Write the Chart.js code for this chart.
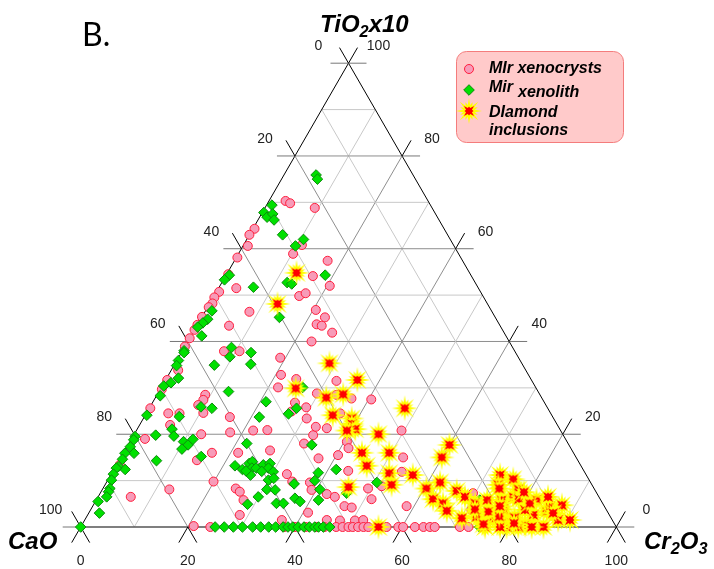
<!DOCTYPE html>
<html>
<head>
<meta charset="utf-8">
<script src="https://cdn.jsdelivr.net/npm/chart.js@4"></script>
<style>
  html, body { margin: 0; padding: 0; background: #fff; }
  #wrap { width: 714px; height: 569px; }
</style>
</head>
<body>
<div id="wrap"><canvas id="ternary" width="714" height="569"></canvas></div>
<script>
// every point is [Cr2O3, TiO2x10] in percent, CaO is what is left to 100
const xenocrysts = [
  [3.1,70.3],[4.2,69.8],[9.3,68.8],[0.3,64.3],[0,63],[0.9,60.6],[10.9,60.8],[10.2,58.9],[0.2,58.1],
  [17.4,57.4],[16.3,54.1],[20.5,52],[3.3,51.5],[0.3,54.5],[15.9,49.8],[16.8,50.4],[8.3,46.4],[20.5,46.8],
  [23,45.2],[22.2,43.7],[23.3,43.4],[26,41.9],[23.1,40],[6,43.4],[7.8,37.9],[10.7,37.9],[19,36.5],
  [21,32.8],[32,31.5],[24.3,31.9],[21.8,30.1],[9,28.5],[29.7,28.8],[33.5,28.5],[36.7,27.7],[40.5,27.5],
  [26.6,26.8],[29.2,25.8],[36.2,24.5],[16,23.7],[30.5,23.4],[26.9,24.9],
  [0.5,50.7],[0.2,49.5],[0.5,48.2],[0.2,47.4],[0,45.3],[0,43.6],[0,42.5],[0,40.7],[0,38.9],[1.3,33.8],
  [0.3,31.7],[0.3,29.7],[9.2,27.4],[0.2,25.6],[10.6,24.6],[6.2,24.5],[4.1,24.5],[5.7,22],[8.8,26.3],
  [12.5,20],[17.7,20.4],[2.5,19],[14.5,14.4],[16.5,16],[21.4,16],[0.6,13.4],[6.1,6.5],[12.5,8.1],
  [19.9,9.8],[24.8,8.3],[25.9,7.6],[27.5,5.8],[28.4,2.6],
  [21.8,20.8],[24.4,20.9],[33.5,19.8],[33.1,21.6],[35.3,21.3],[32.7,18],[40.5,18.4],[41.5,17],[27.1,16.5],
  [40.3,15.5],[49.5,20.8],[52.7,15],[54,11.9],[37,14.8],[43.9,12.1],[32.8,11.4],[34.6,9.8],[38,9.6],
  [39.1,8],[42.4,7.1],[44.2,6.5],[40.9,3.1],[47,4.5],[48.5,4.2],[51.3,6],[49.5,8.3],[51.8,8.8],[58.6,4.5],
  [36.8,1.5],[45.2,1.5],[47.7,1.4],[50.5,1.4],[52,1.5],[69.6,7.3],[71.1,3.7],
  [21,0.2],[24.2,0],[38,0],[40,0],[42,0],[44,0],[45.5,0],[47.7,0],[48.9,0],[50,0],[50.8,0],[51.8,0],
  [52.8,0],[53.7,0],[57.1,0],[59.3,0],[60.2,0],[62.4,0],[64,0],[65.2,0],[66.1,0],[70.8,0],[72.4,0]
];
const xenolith = [
  [6,75.9],[6.7,75],[1,69.4],[0.3,67.8],[1.4,66.8],[2.1,67.5],[3,66.2],[6.2,63],[10.6,62],[9.8,60.6],
  [18.5,54.3],[12.2,52.7],[13.2,52.4],[0.6,54.3],[0.2,53.3],[6.4,51.7],[14.5,45.2],[1.2,46.6],[1.3,44.8],
  [0.8,44],[0.3,43.1],[2,41.2],[0.3,38],[0.5,37.6],[8.8,38.7],[9.5,36.7],[13,37.6],[14.2,35.1],[7.5,34.9],
  [0.3,35.9],[0.5,34.8],[2.2,32.1],[1.3,31.1],[0.3,30.4],[0.7,28.3],[13,29.2],[0.3,24.1],[9.5,25.9],
  [11.7,25.6],[6.5,23.8],[6.5,21.1],[7.6,19.6],[0.4,19.5],[0.5,18.8],[4.1,19.8],[0.6,17.3],[2,15.9],
  [0.3,15.9],[0.5,14.6],[0.5,13],[2.1,12.4],[0.3,12.7],[0.4,11.4],[0.7,10.1],[1.3,8.3],[1.4,7.6],
  [1.6,6.5],[0.5,5.5],[2,3],[7,14.3],[10,18.4],[11.2,17.7],[11.5,18.9],[10.5,16.8],[14.9,15.2],[0,0],
  [21.1,27],[26.6,24.4],[21.5,23.7],[27.5,25.6],[34.3,17.7],[22,18],[26.4,30.1],
  [22.2,13.2],[24,12.4],[24.6,13.7],[25,14.1],[25.6,12.7],[26.4,12.7],[26.1,11.2],[24.8,12.1],[27.4,13.4],
  [28.5,13.7],[28.7,12.7],[30,11.9],[27.8,12],[30,10.1],[30.8,10.5],[30.7,8.1],[32.3,8],[29.9,6.5],
  [28.7,4.9],[34,5.1],[35.3,5.1],[35.2,9.3],[36.9,6.2],[38.2,5.5],[38.7,10],[40.6,8.1],[41.5,5.8],
  [38.5,11.7],[41.5,12.4],[46,7.3],[50.5,9.6],[71.6,5.8],[74.5,0],
  [25.1,0],[26.8,0],[28.5,0],[30.2,0],[32.1,0],[33.6,0],[35.1,0],[36.4,0],[37.8,0],[38.7,0],[39.6,0],
  [40.6,0],[41.7,0],[42.7,0],[43.7,0],[44.4,0],[45.3,0],[46.5,0]
];
const diamondInclusions = [
  [12.9,54.8],[12.7,48.1],[28.8,35.3],[35.8,31.7],[25.2,29.9],[31.9,27.9],[34.7,28.6],[47.7,25.6],
  [35,24.1],[38.9,23.4],[39.5,22.2],[40.7,21.1],[39.3,20.8],[45.6,20],[44.5,16],[49.6,16],[46.8,13.2],
  [51.8,11.6],[53.5,9.1],[56.4,11.2],[45.7,8.6],[55.6,0],[60,17.7],[59.9,15],[60.4,8.3],[62.3,9.6],
  [62.8,6],[65.1,5.1],[66.6,3.5],[66.3,7.8],[68.5,6.5],[70.2,1.9],[71.1,5.1],[72.8,2.2],[73,5.8],
  [72.7,11.2],[75.6,10.3],[73.4,9.1],[77.5,6.5],[77.7,8.1],[75.7,5.8],[78.8,6],[82.2,5.8],[85.3,3.4],
  [87.5,4.7],[88.4,1.5],[90.6,1.5],[83.2,2.6],[86.4,0],[82.8,0.4],[81.7,0],[78.8,1.5],[76,1.9],[75.5,0],
  [71.7,3.8],[74.5,3.3],[77,3.8],[81.1,3.7],[81.3,5.1],[85.4,4.4],[86.7,3],[84.2,0],[79.5,0],[78.3,0],
  [74.9,0.6],[80,2],[79,7.5],[84,6.5],[80.5,0.8],[77,2.3],[74,8.3],[76,4.5]
];
const seriesNames = ['MIr xenocrysts', 'Mir xenolith', 'DIamond inclusions'];
const tickValues = [0, 20, 40, 60, 80, 100];
const gridStep = 10;

const SQ3 = Math.sqrt(3) / 2;
const TICK_LEN = 18;
const LABEL_FONT = "14px 'Liberation Sans', Arial, sans-serif";

function toXY(p) {
  return { x: p[0] + p[1] / 2, y: p[1] * SQ3 };
}

function starPath(g, cx, cy, n, radii, start) {
  g.beginPath();
  for (let i = 0; i < n; i++) {
    const a = start + i * 2 * Math.PI / n;
    const r = radii[i % radii.length];
    const px = cx + r * Math.cos(a), py = cy + r * Math.sin(a);
    i ? g.lineTo(px, py) : g.moveTo(px, py);
  }
  g.closePath();
}

// yellow burst with a red four-point core
function makeStar() {
  const c = document.createElement('canvas');
  c.width = c.height = 28;
  const g = c.getContext('2d');
  starPath(g, 14, 14, 32, [13, 6, 9.5, 6], 0);
  g.fillStyle = '#ffff00';
  g.fill();
  starPath(g, 14, 14, 16, [7.2, 3.2, 4.6, 3.2], Math.PI / 4);
  g.fillStyle = '#ff0000';
  g.fill();
  return c;
}
const starImg = makeStar();

const diamondStyle = { pointStyle: 'rectRot', radius: 5.3, rotation: 0, borderWidth: 1 };
const PINK = '#f79bb8', PINK_EDGE = '#ff1e3c';
const GREEN = '#00e000', GREEN_EDGE = '#0c8a0c';

function line(ctx, a, b, color, w) {
  ctx.beginPath();
  ctx.moveTo(a[0], a[1]);
  ctx.lineTo(b[0], b[1]);
  ctx.strokeStyle = color;
  ctx.lineWidth = w || 1;
  ctx.stroke();
}

// text runs with optional subscript pieces
function richText(ctx, parts, x, y, size) {
  let cx = x;
  parts.forEach(([t, sub]) => {
    const s = sub ? size * 0.68 : size;
    ctx.font = `bold italic ${s}px 'Liberation Sans', Arial, sans-serif`;
    ctx.fillText(t, cx, sub ? y + size * 0.22 : y);
    cx += ctx.measureText(t).width;
  });
}

const ternaryGrid = {
  id: 'ternaryGrid',
  beforeDatasetsDraw(chart) {
    const { ctx, scales: { x, y } } = chart;
    const pt = (cr, ti) => [x.getPixelForValue(cr + ti / 2), y.getPixelForValue(ti * SQ3)];
    ctx.save();
    for (let v = gridStep; v < 100; v += gridStep) {
      const col = v % 20 === 0 ? '#8e8e8e' : '#c8c8c8';
      line(ctx, pt(0, v), pt(100 - v, v), col);
      line(ctx, pt(v, 0), pt(v, 100 - v), col);
      line(ctx, pt(100 - v, 0), pt(0, 100 - v), col);
    }
    line(ctx, pt(0, 0), pt(0, 100), '#000');
    line(ctx, pt(100, 0), pt(0, 100), '#000');
    line(ctx, pt(0, 0), pt(100, 0), '#555', 1.5);

    const L = TICK_LEN, dx = 0.5 * L, dy = SQ3 * L;
    ctx.font = LABEL_FONT;
    ctx.fillStyle = '#222';
    ctx.textAlign = 'center';
    ctx.textBaseline = 'middle';
    tickValues.forEach(v => {
      // CaO on the left edge
      const p = pt(0, 100 - v);
      line(ctx, p, [p[0] - L, p[1]], '#777');
      line(ctx, p, [p[0] - dx, p[1] - dy], '#000');
      ctx.fillText(String(v), p[0] - 30, p[1] - 17);
      // Cr2O3 along the base
      const q = pt(v, 0);
      line(ctx, q, [q[0] - dx, q[1] + dy], '#000');
      line(ctx, q, [q[0] + dx, q[1] + dy], '#000');
      ctx.fillText(String(v), q[0], q[1] + 34);
      // TiO2 on the right edge
      const r = pt(100 - v, v);
      line(ctx, r, [r[0] + L, r[1]], '#777');
      line(ctx, r, [r[0] + dx, r[1] - dy], '#000');
      ctx.fillText(String(v), r[0] + 30, r[1] - 17);
    });
    ctx.restore();
  },
  afterDraw(chart) {
    const { ctx } = chart;
    ctx.save();
    ctx.fillStyle = '#000';
    ctx.textAlign = 'left';
    ctx.textBaseline = 'alphabetic';
    richText(ctx, [['TiO'], ['2', true], ['x10']], 320, 32, 24);
    richText(ctx, [['CaO']], 8, 549, 24);
    richText(ctx, [['Cr'], ['2', true], ['O'], ['3', true]], 644, 549, 24);
    ctx.font = "32px Lato, 'Liberation Sans', sans-serif";
    ctx.fillText('B.', 82, 46);

    // legend
    ctx.beginPath();
    ctx.roundRect(456.5, 51.5, 167, 91, 10);
    ctx.fillStyle = '#ffcaca';
    ctx.fill();
    ctx.strokeStyle = '#f47c7c';
    ctx.lineWidth = 1;
    ctx.stroke();

    ctx.lineWidth = 1;
    ctx.fillStyle = PINK; ctx.strokeStyle = PINK_EDGE;
    ctx.beginPath(); ctx.arc(469, 69, 4.5, 0, Math.PI * 2); ctx.fill(); ctx.stroke();
    ctx.fillStyle = GREEN; ctx.strokeStyle = GREEN_EDGE;
    Chart.helpers.drawPoint(ctx, diamondStyle, 469, 90);
    ctx.drawImage(starImg, 455, 97);

    ctx.fillStyle = '#000';
    ctx.font = "bold italic 16px 'Liberation Sans', Arial, sans-serif";
    ctx.fillText(seriesNames[0], 489, 73);
    ctx.fillText('Mir', 489, 92);
    ctx.fillText('xenolith', 518, 96.5);
    ctx.fillText('DIamond', 489, 116.5);
    ctx.fillText('inclusions', 489, 134.5);
    ctx.restore();
  }
};

new Chart(document.getElementById('ternary'), {
  type: 'scatter',
  data: {
    datasets: [
      {
        label: seriesNames[2], data: diamondInclusions.map(toXY), order: 1, clip: false,
        pointStyle: starImg
      },
      {
        label: seriesNames[1], data: xenolith.map(toXY), order: 2, clip: false,
        pointStyle: 'rectRot', pointRadius: 5.3, backgroundColor: GREEN, borderColor: GREEN_EDGE, borderWidth: 1
      },
      {
        label: seriesNames[0], data: xenocrysts.map(toXY), order: 3, clip: false,
        pointStyle: 'circle', pointRadius: 4.5, backgroundColor: PINK, borderColor: PINK_EDGE, borderWidth: 1
      }
    ]
  },
  options: {
    responsive: false,
    animation: false,
    devicePixelRatio: 1,
    layout: { padding: { left: 80.7, right: 97.7, top: 63.2, bottom: 42 } },
    scales: {
      x: { type: 'linear', min: 0, max: 100, display: false },
      y: { type: 'linear', min: 0, max: 100 * SQ3, display: false }
    },
    plugins: { legend: { display: false }, tooltip: { enabled: false } },
    events: []
  },
  plugins: [ternaryGrid]
});
</script>
</body>
</html>
